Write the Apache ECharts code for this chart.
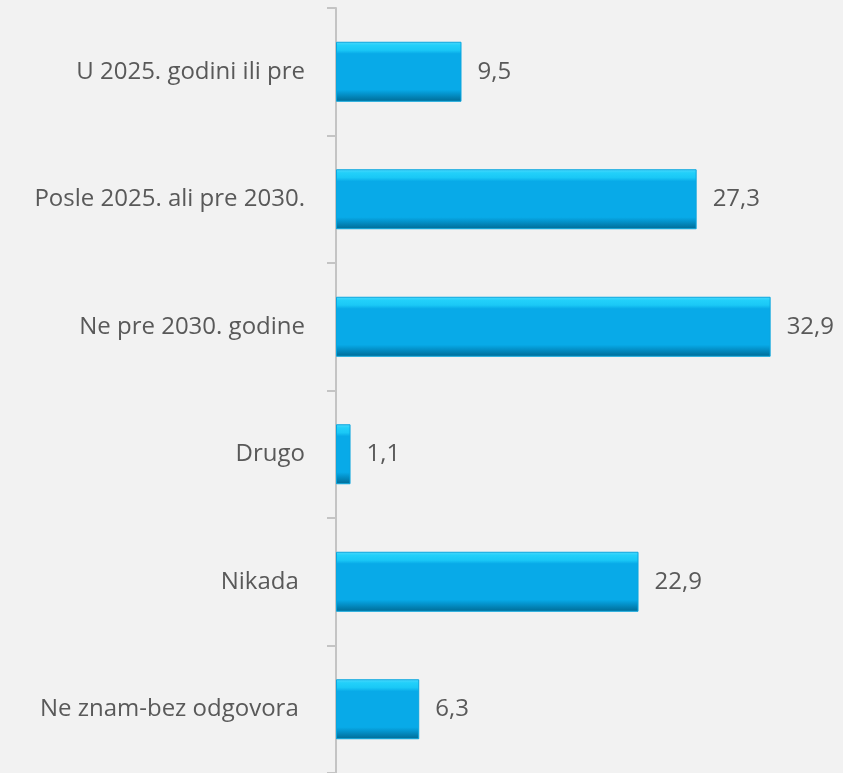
<!DOCTYPE html>
<html>
<head>
<meta charset="utf-8">
<script src="https://cdn.jsdelivr.net/npm/echarts@6/dist/echarts.min.js"></script>
<style>
  html, body { margin: 0; padding: 0; background: #f2f2f2; }
  #chart { width: 843px; height: 773px; }
</style>
</head>
<body>
<div id="chart"></div>
<script>
// kategorije i vrednosti (%)
const categories = [
  'U 2025. godini ili pre',
  'Posle 2025. ali pre 2030.',
  'Ne pre 2030. godine',
  'Drugo',
  'Nikada ',
  'Ne znam-bez odgovora ',
]
const values = [9.5, 27.3, 32.9, 1.1, 22.9, 6.3]

const chart = echarts.init(document.getElementById('chart'))

// "bevel" efekat preko vertikalnog gradijenta
const barColor = new echarts.graphic.LinearGradient(0, 0, 0, 1, [
  { offset: 0, color: '#4fd8fc' },
  { offset: 0.06, color: '#22d0fa' },
  { offset: 0.14, color: '#1ac8f6' },
  { offset: 0.2, color: '#08aae8' },
  { offset: 0.8, color: '#08aae8' },
  { offset: 0.86, color: '#0496d0' },
  { offset: 1, color: '#006a94' },
])

chart.setOption({
  backgroundColor: '#f2f2f2',
  animation: false,
  grid: { left: 336, right: 5, top: 8, bottom: -3 },
  xAxis: {
    type: 'value',
    min: 0,
    max: 38,
    show: false,
  },
  yAxis: {
    type: 'category',
    inverse: true,
    data: categories,
    axisLine: { show: true, lineStyle: { color: '#c4c4c4', width: 2 } },
    axisTick: { show: true, length: 9, lineStyle: { color: '#c4c4c4', width: 2 } },
    axisLabel: {
      margin: 31,
      color: '#595959',
      fontSize: 24,
      fontFamily: 'Open Sans',
    },
  },
  series: [
    {
      type: 'bar',
      data: values,
      barWidth: 60,
      itemStyle: {
        color: barColor,
        borderColor: '#0aa6de',
        borderWidth: 1,
      },
      label: {
        show: true,
        position: 'right',
        distance: 16,
        color: '#595959',
        fontSize: 24,
        fontFamily: 'Open Sans',
        formatter: (p) => String(p.value).replace('.', ','),
      },
    },
  ],
})
</script>
</body>
</html>
